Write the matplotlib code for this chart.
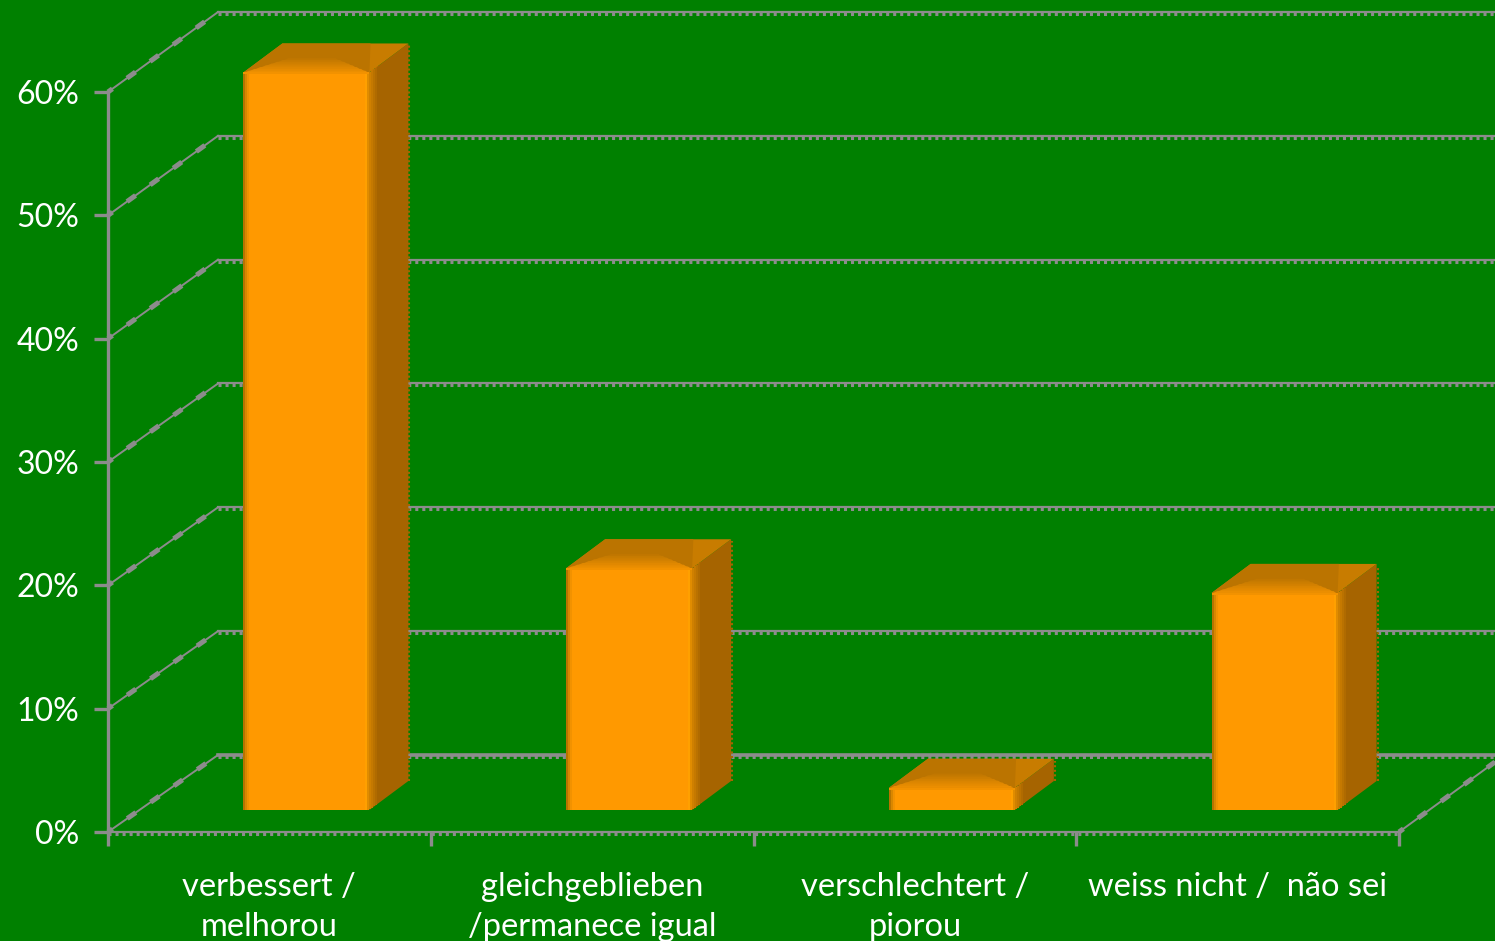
import matplotlib
matplotlib.use('Agg')
import matplotlib.pyplot as plt
from matplotlib.colors import to_rgb

labels = ['verbessert /\nmelhorou', 'gleichgeblieben\n/permanece igual',
          'verschlechtert /\npiorou', 'weiss nicht /  não sei']
values = [59.8, 19.6, 1.8, 17.6]
y_ticks = [0, 10, 20, 30, 40, 50, 60]
y_tick_labels = ['0%', '10%', '20%', '30%', '40%', '50%', '60%']

GREEN = '#008000'
GRAY = '#8c8c8c'
W, H = 1495, 941

# one pixel in data units
PX = 1 / 322.75
PY = 1 / 12.33
# depth of the fake 3d box
DX = 110 * PX
DY = 77 * PY
# bar placing inside the box
BAR_W = 126 * PX
BAR_SHIFT = 37 * PX
BAR_BASE = 22 * PY
SIDE_X = 39 * PX
SIDE_Y = 29 * PY


def mix(a, b, f):
    a, b = to_rgb(a), to_rgb(b)
    return tuple(a[i] + (b[i] - a[i]) * f for i in range(3))


def draw_bar(ax, x, v):
    l = x + BAR_SHIFT - BAR_W / 2
    r = l + BAR_W
    b = BAR_BASE
    t = b + v
    # side
    ax.fill([r, r + SIDE_X, r + SIDE_X, r], [b, b + SIDE_Y, t + SIDE_Y, t],
            color='#a66400', lw=0, zorder=3, clip_on=False)
    # rough far edge of the side
    ax.plot([r + SIDE_X + PX, r + SIDE_X + PX], [b + SIDE_Y, t + SIDE_Y - 2 * PY], color='#a66400',
            lw=1.5, ls=(0, (1, 1.2)), zorder=3, clip_on=False)
    for i in range(5):
        ax.bar(r + (i + 0.5) * PX * 2, v, 2 * PX, bottom=b + (i + 0.5) * 2 * SIDE_Y / SIDE_X * PX,
               color=mix('#d98700', '#a66400', (i + 1) / 5), lw=0, zorder=3, clip_on=False)
    # top: far right part, then soft bands from the far edge to the front edge
    ax.fill([l, l + SIDE_X, r + SIDE_X, r], [t, t + SIDE_Y, t + SIDE_Y, t],
            color='#c87c00', lw=0, zorder=3, clip_on=False)
    ax.fill([l, l + SIDE_X, l + SIDE_X + BAR_W * 0.7, r],
            [t, t + SIDE_Y, t + SIDE_Y, t],
            color='#bb7400', lw=0, zorder=3, clip_on=False)
    n = 9
    for i in range(n):
        f = 1 - i / n
        ax.fill([l + f * 0.1 * BAR_W, l + f * 0.4 * BAR_W, r - f * 0.3 * BAR_W, r - f * 0.1 * BAR_W],
                [t, t + f * SIDE_Y * 0.55, t + f * SIDE_Y * 0.55, t],
                color=mix('#f29200', '#bb7400', f), lw=0, zorder=3, clip_on=False)
    # front
    ax.bar(x + BAR_SHIFT, v, BAR_W, bottom=b, color='#ff9900', lw=0, zorder=4, clip_on=False)
    # soft edges of the front
    for i, c in enumerate(['#b87300', '#d98700', '#f29200']):
        ax.bar(l + (i + 0.5) * 2 * PX, v, 2 * PX, bottom=b, color=c, lw=0, zorder=5, clip_on=False)
    for i, c in enumerate(['#e08c00', '#ffa000']):
        ax.bar(r - (i + 0.5) * 2 * PX, v, 2 * PX, bottom=b, color=c, lw=0, zorder=5, clip_on=False)
    ax.bar(x + BAR_SHIFT, 2 * PY, BAR_W, bottom=t - 2 * PY, color='#f29200', lw=0, zorder=5, clip_on=False)


def rough_line(ax, xs, ys):
    ax.plot(xs, ys, color=GRAY, lw=1.6, zorder=1, clip_on=False)
    ax.plot(xs, [y - 2 * PY for y in ys], color=GRAY, lw=2.2,
            ls=(0, (1, 1.3)), zorder=1, clip_on=False)


def beaded_line(ax, xs, ys):
    ax.plot(xs, ys, color=GRAY, lw=1.4, zorder=1, clip_on=False)
    ax.plot(xs, ys, color=GRAY, lw=3.6, ls=(1, (2.1, 3.6)), zorder=1, clip_on=False)


def main():
    plt.rcParams['font.family'] = ['Lato', 'DejaVu Sans']
    fig = plt.figure(figsize=(W / 100, H / 100), dpi=100, facecolor=GREEN)
    ax = fig.add_axes([108 / W, (H - 832) / H, 1291 / W, 740 / H], facecolor='none')
    ax.set_xlim(-0.5, 3.5)
    ax.set_ylim(0, 60)
    x_max = 3.5 + 96 * PX

    for s in ['top', 'right']:
        ax.spines[s].set_visible(False)
    ax.spines['left'].set_color(GRAY)
    ax.spines['left'].set_linewidth(2.4)
    ax.spines['bottom'].set_color(GRAY)
    ax.spines['bottom'].set_linewidth(1.6)

    # back wall and side wall lines
    for v in y_ticks:
        yb = v * 1.004 + DY
        rough_line(ax, [-0.5 + DX, x_max], [yb, yb])
        beaded_line(ax, [-0.5, -0.5 + DX], [v, yb])
    # floor line at the back is heavier
    ax.plot([-0.5 + DX, x_max], [DY, DY], color=GRAY, lw=2.6, zorder=1, clip_on=False)
    # teeth below the front floor line
    ax.plot([-0.5, 3.5], [-2 * PY, -2 * PY], color=GRAY, lw=2.2,
            ls=(0, (1, 1.3)), zorder=1, clip_on=False)
    # right floor edge
    beaded_line(ax, [3.5, x_max], [0, 70 * PY])

    for i, v in enumerate(values):
        draw_bar(ax, i, v)

    ax.set_yticks(y_ticks)
    ax.set_yticklabels(y_tick_labels)
    ax.set_xticks([-0.5, 0.5, 1.5, 2.5, 3.5])
    ax.set_xticklabels([])
    ax.set_xticks(range(4), labels, minor=True)
    ax.tick_params(axis='y', length=10, width=2.4, color=GRAY, labelcolor='white',
                   labelsize=23, pad=10.6)
    ax.tick_params(axis='x', which='major', length=10, width=2.4, color=GRAY)
    ax.tick_params(axis='x', which='minor', length=0, labelcolor='white',
                   labelsize=23.5, pad=28.5)
    for t in ax.get_xticklabels(minor=True):
        t.set_linespacing(1.42)
        t.set_clip_on(False)

    fig.savefig('out.png', dpi=100, facecolor=GREEN)


if __name__ == '__main__':
    main()
